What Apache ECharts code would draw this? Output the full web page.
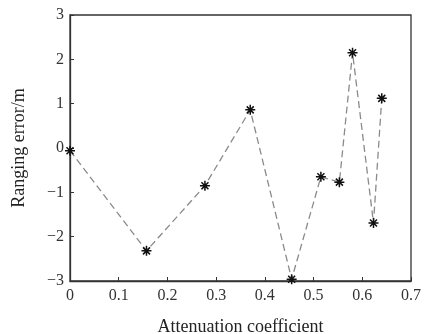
<!DOCTYPE html>
<html>
<head>
<meta charset="utf-8">
<script src="https://cdn.jsdelivr.net/npm/echarts@6/dist/echarts.min.js"></script>
<style>html,body{margin:0;padding:0;background:#fff;}#c{width:427px;height:334px;}</style>
</head>
<body>
<div id="c"></div>
<script>
var attenuation = [0.0, 0.157, 0.277, 0.370, 0.455, 0.515, 0.553, 0.580, 0.623, 0.640];
var rangingError = [-0.06, -2.32, -0.85, 0.86, -2.96, -0.65, -0.77, 2.15, -1.69, 1.12];
var xTicks = [0, 0.1, 0.2, 0.3, 0.4, 0.5, 0.6, 0.7];
var yTicks = [-3, -2, -1, 0, 1, 2, 3];

var data = attenuation.map(function (x, i) { return [x, rangingError[i]]; });
var font = '"Liberation Serif", "DejaVu Serif", serif';
var star = 'path://M0 10 L20 10 M10 0 L10 20 M3 3 L17 17 M17 3 L3 17';
function fmt(v) { return String(v).replace('-', '\u2212'); }

var chart = echarts.init(document.getElementById('c'));
chart.setOption({
  animation: false,
  backgroundColor: '#fff',
  grid: { left: 70, right: 16, top: 15, bottom: 53, outerBoundsMode: 'none', containLabel: false, show: true, borderColor: '#333', borderWidth: 1.3, backgroundColor: 'transparent' },
  xAxis: {
    type: 'value', min: xTicks[0], max: xTicks[xTicks.length - 1], interval: 0.1,
    name: 'Attenuation coefficient', nameLocation: 'middle', nameGap: 37,
    nameTextStyle: { fontFamily: font, fontSize: 18, color: '#222' },
    axisLine: { show: true, onZero: false, lineStyle: { color: '#333', width: 1.3 } },
    axisTick: { show: true, inside: true, length: 4, lineStyle: { color: '#333' } },
    axisLabel: { fontFamily: font, fontSize: 16, color: '#333', margin: 7, formatter: fmt },
    splitLine: { show: false }
  },
  yAxis: {
    type: 'value', min: yTicks[0], max: yTicks[yTicks.length - 1], interval: 1,
    name: 'Ranging error/m', nameLocation: 'middle', nameGap: 42, nameRotate: 90,
    nameTextStyle: { fontFamily: font, fontSize: 18, color: '#222' },
    axisLine: { show: true, onZero: false, lineStyle: { color: '#333', width: 1.3 } },
    axisTick: { show: true, inside: true, length: 4, lineStyle: { color: '#333' } },
    axisLabel: { fontFamily: font, fontSize: 16, color: '#333', margin: 6, formatter: fmt },
    splitLine: { show: false }
  },
  series: [{
    type: 'line',
    data: data,
    symbol: star,
    symbolSize: 10,
    showAllSymbol: true,
    lineStyle: { color: '#8a8a8a', width: 1.3, type: [7, 4] },
    itemStyle: { color: 'transparent', borderColor: '#111', borderWidth: 1.5 },
    z: 3
  }]
});
</script>
</body>
</html>
